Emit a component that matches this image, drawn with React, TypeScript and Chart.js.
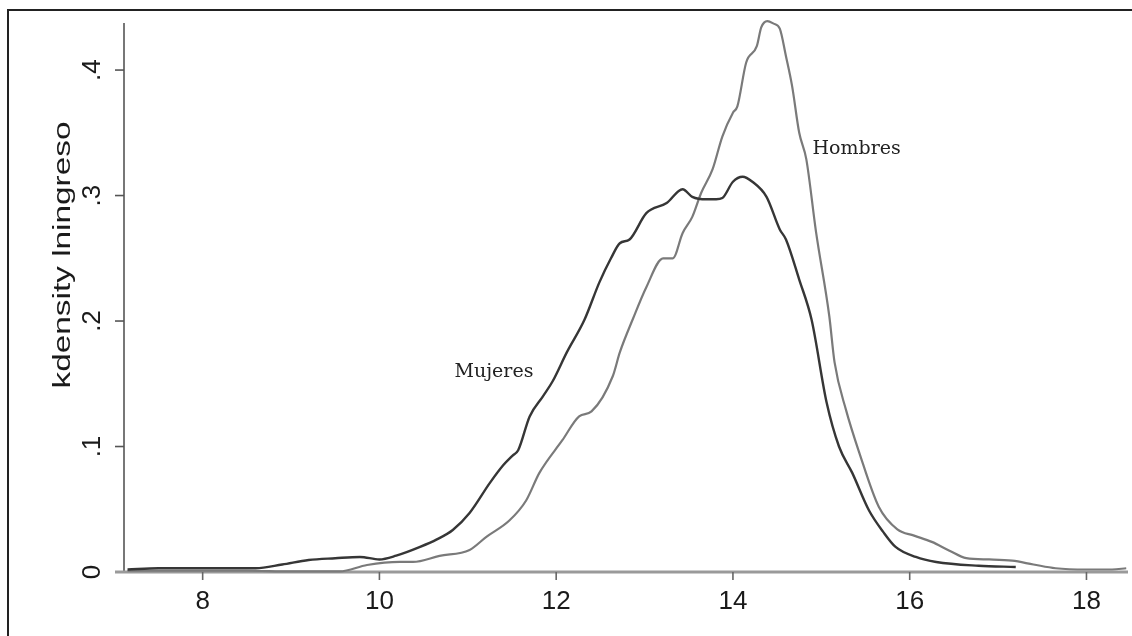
import React, { useEffect, useRef } from "react";
import { Chart, registerables } from "chart.js";

Chart.register(...registerables);

// Kernel density of log income, women (Mujeres)
const mujeresX = [7.15, 7.5, 8.0, 8.3, 8.6, 8.9, 9.2, 9.5, 9.78, 10.0, 10.19, 10.46, 10.65, 10.83, 11.02, 11.25, 11.4, 11.51, 11.57, 11.7, 11.85, 11.96, 12.12, 12.32, 12.49, 12.62, 12.72, 12.83, 13.02, 13.25, 13.43, 13.54, 13.7, 13.81, 13.88, 14.0, 14.11, 14.22, 14.38, 14.53, 14.6, 14.75, 14.89, 15.06, 15.2, 15.35, 15.54, 15.7, 15.84, 16.07, 16.3, 16.78, 17.2];
const mujeresY = [0.002, 0.003, 0.003, 0.003, 0.003, 0.006, 0.0096, 0.011, 0.012, 0.01, 0.013, 0.02, 0.026, 0.0335, 0.047, 0.071, 0.085, 0.093, 0.097, 0.124, 0.14, 0.152, 0.175, 0.201, 0.231, 0.25, 0.262, 0.265, 0.286, 0.294, 0.305, 0.299, 0.297, 0.297, 0.298, 0.311, 0.315, 0.311, 0.299, 0.273, 0.265, 0.233, 0.201, 0.135, 0.1, 0.079, 0.049, 0.032, 0.02, 0.012, 0.008, 0.005, 0.004];

// Kernel density of log income, men (Hombres)
const hombresX = [7.15, 7.5, 8.0, 8.5, 9.0, 9.55, 9.86, 10.23, 10.38, 10.68, 11.02, 11.21, 11.47, 11.66, 11.81, 12.07, 12.26, 12.4, 12.64, 12.72, 12.87, 13.02, 13.21, 13.32, 13.43, 13.54, 13.64, 13.77, 13.88, 14.0, 14.05, 14.15, 14.27, 14.32, 14.39, 14.46, 14.53, 14.6, 14.67, 14.75, 14.83, 14.94, 15.09, 15.15, 15.28, 15.43, 15.65, 15.86, 16.05, 16.25, 16.45, 16.64, 16.9, 17.16, 17.4, 17.65, 18.0, 18.29, 18.45];
const hombresY = [0.001, 0.001, 0.001, 0.001, 0.0005, 0.0005, 0.0056, 0.008, 0.008, 0.0128, 0.0176, 0.028, 0.041, 0.057, 0.079, 0.105, 0.124, 0.128, 0.156, 0.175, 0.202, 0.227, 0.25, 0.25, 0.27, 0.283, 0.302, 0.321, 0.347, 0.366, 0.371, 0.406, 0.419, 0.434, 0.439, 0.437, 0.433, 0.411, 0.387, 0.35, 0.329, 0.271, 0.204, 0.167, 0.129, 0.095, 0.052, 0.034, 0.029, 0.024, 0.017, 0.011, 0.01, 0.009, 0.006, 0.003, 0.002, 0.002, 0.003];

const xTicks = [8, 10, 12, 14, 16, 18];
const xTickLabels = ["8", "10", "12", "14", "16", "18"];
const yTicks = [0, 0.1, 0.2, 0.3, 0.4];
const yTickLabels = ["0", ".1", ".2", ".3", ".4"];
const yTitle = "kdensity lningreso";
const seriesLabels = ["Mujeres", "Hombres"];
const labelAnchors = [
  { x: 10.85, y: 0.1556 },
  { x: 14.9, y: 0.333 },
];

const X_MIN = 7.11;
const X_MAX = 18.47;
const Y_MAX = 0.4375;

const decorPlugin = {
  id: "decor",
  beforeDatasetsDraw(chart: any) {
    const { ctx, chartArea, scales } = chart;
    const xs = scales.x;
    const ys = scales.y;
    ctx.save();
    // outer frame (top and left edges visible)
    ctx.strokeStyle = "#222";
    ctx.lineWidth = 2;
    ctx.beginPath();
    ctx.moveTo(8, 640);
    ctx.lineTo(8, 10);
    ctx.lineTo(1140, 10);
    ctx.stroke();

    // y axis line
    ctx.strokeStyle = "#555";
    ctx.lineWidth = 1.6;
    ctx.beginPath();
    ctx.moveTo(chartArea.left, ys.getPixelForValue(Y_MAX));
    ctx.lineTo(chartArea.left, ys.getPixelForValue(0));
    ctx.stroke();
    // y ticks
    yTicks.forEach((v) => {
      const py = ys.getPixelForValue(v);
      ctx.beginPath();
      ctx.moveTo(chartArea.left - 9, py);
      ctx.lineTo(chartArea.left, py);
      ctx.stroke();
    });
    // x axis line
    ctx.strokeStyle = "#9a9a9a";
    ctx.lineWidth = 3;
    ctx.beginPath();
    ctx.moveTo(chartArea.left - 9, ys.getPixelForValue(0));
    ctx.lineTo(xs.getPixelForValue(X_MAX), ys.getPixelForValue(0));
    ctx.stroke();
    // x ticks
    ctx.strokeStyle = "#666";
    ctx.lineWidth = 1.6;
    xTicks.forEach((v) => {
      const px = xs.getPixelForValue(v);
      ctx.beginPath();
      ctx.moveTo(px, ys.getPixelForValue(0));
      ctx.lineTo(px, ys.getPixelForValue(0) + 8);
      ctx.stroke();
    });
    ctx.restore();
  },
  afterDraw(chart: any) {
    const { ctx, chartArea, scales } = chart;
    const xs = scales.x;
    const ys = scales.y;
    ctx.save();
    ctx.fillStyle = "#1a1a1a";
    ctx.font = "26px 'Liberation Sans', Arial, sans-serif";
    ctx.textAlign = "center";
    ctx.textBaseline = "alphabetic";
    xTicks.forEach((v, i) => {
      ctx.fillText(xTickLabels[i], xs.getPixelForValue(v), ys.getPixelForValue(0) + 37);
    });
    yTicks.forEach((v, i) => {
      const py = ys.getPixelForValue(v);
      ctx.save();
      ctx.translate(chartArea.left - 24, py);
      ctx.rotate(-Math.PI / 2);
      ctx.fillText(yTickLabels[i], 0, 0);
      ctx.restore();
    });
    // y axis title
    ctx.save();
    ctx.font = "23px 'Liberation Sans', Arial, sans-serif";
    ctx.translate(70, 255);
    ctx.rotate(-Math.PI / 2);
    ctx.scale(1.45, 1);
    ctx.fillText(yTitle, 0, 0);
    ctx.restore();

    // series labels
    ctx.font = "19px 'DejaVu Serif', 'Liberation Serif', serif";
    ctx.fillStyle = "#222";
    ctx.textAlign = "left";
    seriesLabels.forEach((t, i) => {
      const a = labelAnchors[i];
      ctx.fillText(t, xs.getPixelForValue(a.x), ys.getPixelForValue(a.y));
    });
    ctx.restore();
  },
};

export default function App() {
  const ref = useRef<HTMLCanvasElement | null>(null);
  useEffect(() => {
    if (!ref.current) return;
    const chart = new Chart(ref.current, {
      type: "line",
      data: {
        datasets: [
          {
            label: seriesLabels[0],
            data: mujeresX.map((x, i) => ({ x, y: mujeresY[i] })),
            borderColor: "#363636",
            borderWidth: 2.4,
            pointRadius: 0,
            cubicInterpolationMode: "monotone",
            clip: false as any,
            fill: false,
          },
          {
            label: seriesLabels[1],
            data: hombresX.map((x, i) => ({ x, y: hombresY[i] })),
            borderColor: "#7a7a7a",
            borderWidth: 2.2,
            pointRadius: 0,
            cubicInterpolationMode: "monotone",
            clip: false as any,
            fill: false,
          },
        ],
      },
      options: {
        animation: false,
        responsive: false,
        devicePixelRatio: 1,
        layout: { padding: { left: 124, right: 4, top: 23, bottom: 64 } },
        plugins: { legend: { display: false }, tooltip: { enabled: false } },
        scales: {
          x: { type: "linear", min: X_MIN, max: X_MAX, display: false },
          y: { type: "linear", min: 0, max: Y_MAX, display: false },
        },
      },
      plugins: [decorPlugin],
    });
    return () => chart.destroy();
  }, []);
  return (
    <div style={{ position: "absolute", left: 0, top: 0, width: 1132, height: 636, overflow: "hidden", background: "#fff" }}>
      <canvas ref={ref} width={1132} height={636} style={{ display: "block" }} />
    </div>
  );
}
